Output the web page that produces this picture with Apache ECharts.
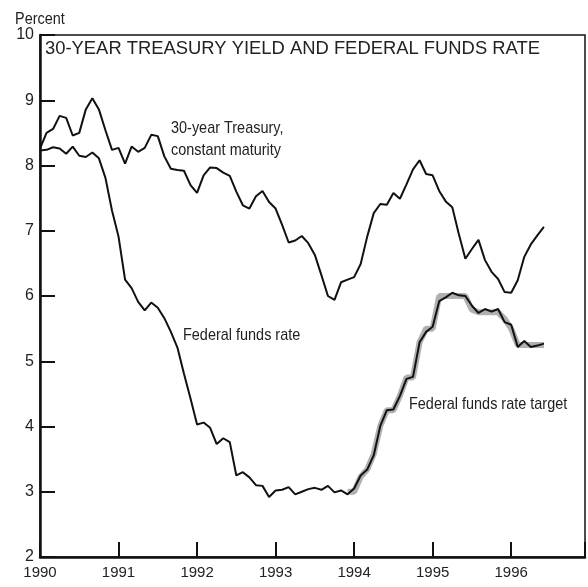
<!DOCTYPE html>
<html>
<head>
  <meta charset="UTF-8">
  <title>30-year Treasury yield and federal funds rate</title>
  <script src="https://cdn.jsdelivr.net/npm/echarts@6/dist/echarts.min.js"></script>
  <style>
    * { margin: 0; padding: 0; }
    body { background: #fff; }
    #chart { width: 588px; height: 587px; }
  </style>
</head>
<body>
  <div id="chart"></div>
  <script>
    // monthly values, starting January 1990
    const startYear = 1990
    const treasury30 = [
      8.26, 8.50, 8.56, 8.76, 8.73, 8.46, 8.50, 8.86, 9.03, 8.86, 8.54, 8.24,
      8.27, 8.03, 8.29, 8.21, 8.27, 8.47, 8.45, 8.14, 7.95, 7.93, 7.92, 7.70,
      7.58, 7.85, 7.97, 7.96, 7.89, 7.84, 7.60, 7.39, 7.34, 7.53, 7.61, 7.44,
      7.34, 7.09, 6.82, 6.85, 6.92, 6.81, 6.63, 6.32, 6.00, 5.94, 6.21, 6.25,
      6.29, 6.49, 6.91, 7.27, 7.41, 7.40, 7.58, 7.49, 7.71, 7.94, 8.08, 7.87,
      7.85, 7.61, 7.45, 7.36, 6.95, 6.57, 6.72, 6.86, 6.55, 6.37, 6.26, 6.06,
      6.05, 6.24, 6.60, 6.79, 6.93, 7.06
    ]
    const fedFunds = [
      8.23, 8.24, 8.28, 8.26, 8.18, 8.29, 8.15, 8.13, 8.20, 8.11, 7.81, 7.31,
      6.91, 6.25, 6.12, 5.91, 5.78, 5.90, 5.82, 5.66, 5.45, 5.21, 4.81, 4.43,
      4.03, 4.06, 3.98, 3.73, 3.82, 3.76, 3.25, 3.30, 3.22, 3.10, 3.09, 2.92,
      3.02, 3.03, 3.07, 2.96, 3.00, 3.04, 3.06, 3.03, 3.09, 2.99, 3.02, 2.96,
      3.05, 3.25, 3.34, 3.56, 4.01, 4.25, 4.26, 4.47, 4.73, 4.76, 5.29, 5.45,
      5.53, 5.92, 5.98, 6.05, 6.01, 6.00, 5.85, 5.74, 5.80, 5.76, 5.80, 5.60,
      5.56, 5.22, 5.31, 5.22, 5.24, 5.27
    ]
    // target starts December 1993 (month index 47)
    const targetStart = 47
    const fedTarget = [
      3.00,
      3.00, 3.23, 3.34, 3.58, 4.01, 4.25, 4.25, 4.47, 4.75, 4.75, 5.29, 5.50,
      5.50, 6.00, 6.00, 6.00, 6.00, 6.00, 5.79, 5.75, 5.75, 5.75, 5.75, 5.65,
      5.50, 5.25, 5.25, 5.25, 5.25, 5.25
    ]
    const yearTicks = [1990, 1991, 1992, 1993, 1994, 1995, 1996]
    const percentTicks = [2, 3, 4, 5, 6, 7, 8, 9, 10]

    const sans = "'Liberation Sans', Arial, sans-serif"
    const toPoints = (arr, offset) => arr.map((v, i) => [startYear + (i + offset) / 12, v])

    // narrow-looking label: regular sans squeezed horizontally
    function note(text, left, top) {
      return {
        type: 'text', left: left, top: top, scaleX: 0.85,
        style: { text: text, fill: '#222', lineHeight: 22, font: '17px ' + sans }
      }
    }

    const chart = echarts.init(document.getElementById('chart'))
    const option = {
      animation: false,
      backgroundColor: '#fff',
      grid: {
        left: 40, right: 3, top: 35, bottom: 30,
        show: true, borderColor: '#111', borderWidth: 1.5,
        containLabel: false
      },
      xAxis: {
        type: 'value',
        min: yearTicks[0],
        max: 1996.94,
        interval: 1,
        splitLine: { show: false },
        axisLine: { lineStyle: { color: '#111', width: 2.5 } },
        axisTick: { inside: true, length: 15, lineStyle: { color: '#111', width: 2 } },
        axisLabel: {
          margin: 8,
          color: '#222',
          fontFamily: sans,
          fontSize: 15,
          formatter: v => yearTicks.includes(v) ? String(v) : ''
        }
      },
      yAxis: {
        type: 'value',
        min: percentTicks[0],
        max: percentTicks[percentTicks.length - 1],
        interval: 1,
        splitLine: { show: false },
        axisLine: { lineStyle: { color: '#111', width: 2.5 } },
        axisTick: { inside: true, length: 15, lineStyle: { color: '#111', width: 2 } },
        axisLabel: {
          margin: 6,
          color: '#222',
          fontFamily: sans,
          fontSize: 16
        }
      },
      graphic: [
        {
          type: 'text', left: 45, top: 40,
          style: { text: '30-YEAR TREASURY YIELD AND FEDERAL FUNDS RATE', fill: '#222',
            font: '18.4px ' + sans }
        },
        note('Percent', 15, 8),
        note('30-year Treasury,\nconstant maturity', 171, 117),
        note('Federal funds rate', 183, 324),
        note('Federal funds rate target', 409, 393)
      ],
      series: [
        {
          name: 'Federal funds rate target',
          type: 'line',
          data: toPoints(fedTarget, targetStart),
          showSymbol: false,
          z: 1,
          lineStyle: { color: '#b0b0b0', width: 6 }
        },
        {
          name: '30-year Treasury',
          type: 'line',
          data: toPoints(treasury30, 0),
          showSymbol: false,
          z: 3,
          lineStyle: { color: '#111', width: 2 }
        },
        {
          name: 'Federal funds rate',
          type: 'line',
          data: toPoints(fedFunds, 0),
          showSymbol: false,
          z: 3,
          lineStyle: { color: '#111', width: 2 }
        }
      ]
    }
    chart.setOption(option)
  </script>
</body>
</html>
